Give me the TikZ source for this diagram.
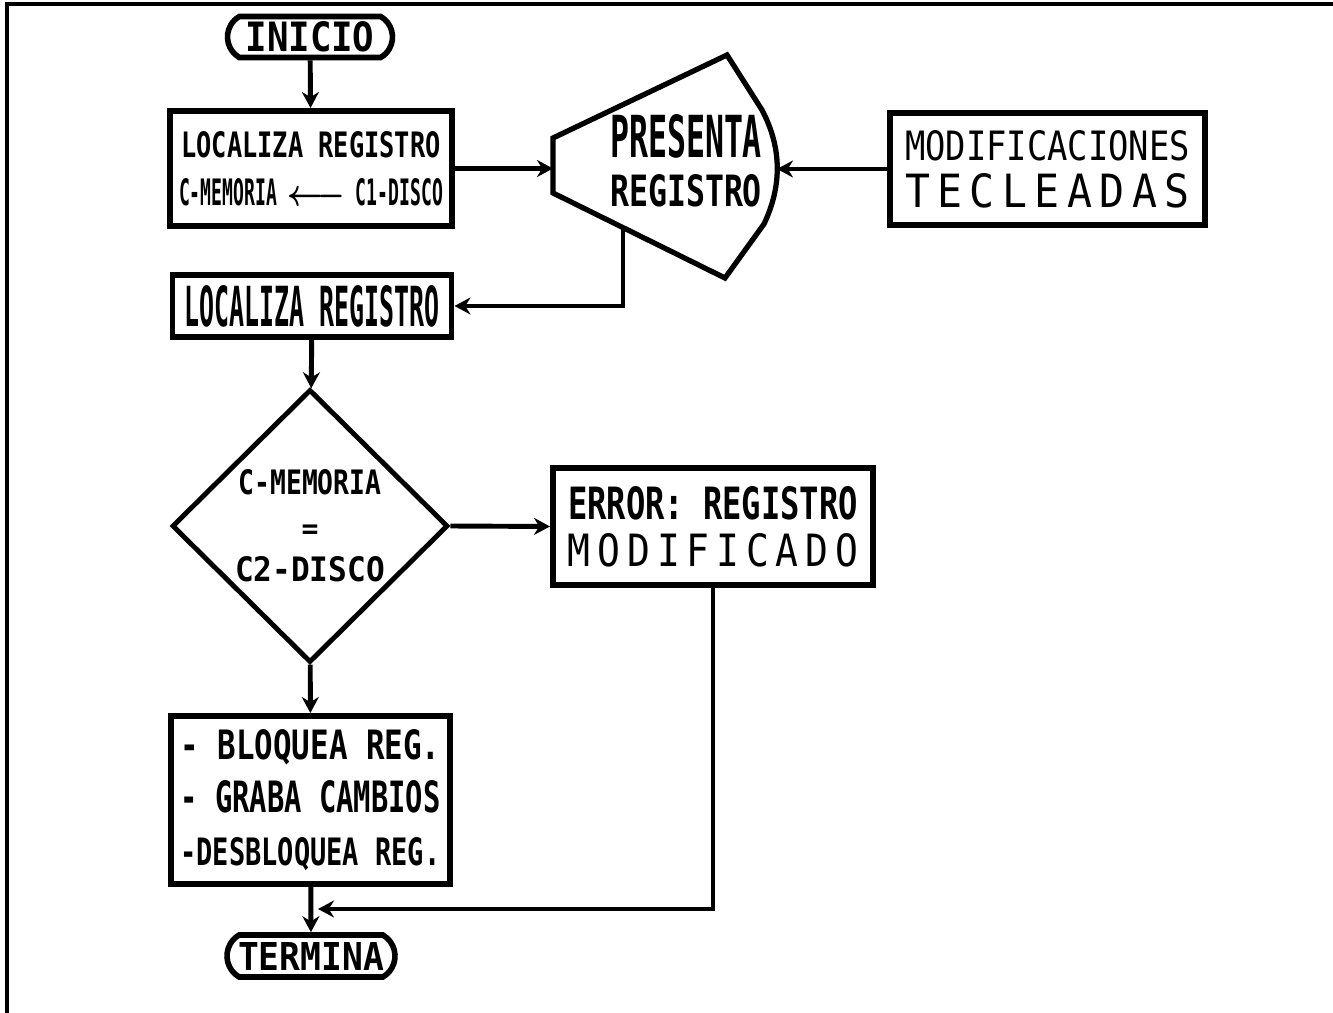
\documentclass[tikz,border=0pt]{standalone}
\usepackage{fontspec}
\usepackage{graphicx}
\setmonofont{DejaVu Sans Mono}
\newfontfamily\spacedfont[LetterSpace=18]{DejaVu Sans Mono}
\usetikzlibrary{arrows.meta,shapes.geometric,shapes.misc}
\newcommand{\fitto}[3]{\resizebox{#1}{#2}{#3}}
\newcommand{\linesk}[1]{\ttfamily\bfseries\fontsize{8}{#1}\selectfont}

\begin{document}
\begin{tikzpicture}[
  x=0.1mm,y=-0.1mm,
  >={Stealth[length=1.6mm,width=1.7mm]},
  every node/.style={font=\linesk{10},inner sep=0pt,align=center},
  box/.style={rectangle,draw,line width=1.7pt},
  term/.style={rounded rectangle,rounded rectangle arc length=120,draw,line width=1.6pt},
  decis/.style={diamond,draw,line width=1.4pt,aspect=1},
  arc/.style={->,line width=1.4pt}
]
\useasboundingbox (0,0) rectangle (1333,1013);
\draw[line width=1.4pt] (1333,4) -- (7,4) -- (7,1013);

\node[term,minimum width=16.5mm,minimum height=4.1mm] (ini) at (310,37) {\fitto{12.9mm}{3.0mm}{INICIO}};
\node[box,minimum width=28.2mm,minimum height=11.5mm,font=\linesk{13.7}] (loc1) at (311,168.5)
  {\fitto{25.9mm}{2.6mm}{LOCALIZA REGISTRO}\\
   \fitto{26.4mm}{2.7mm}{C-MEMORIA \scalebox{1.6}[1]{\boldmath$\longleftarrow$} C1-DISCO}};

% pantalla
\draw[line width=1.5pt] (553,138) -- (727,55) -- (762,110)
  .. controls (782,148) and (782,186) .. (764,224) -- (725,278) -- (553,193) -- cycle;
\coordinate (presW) at (553,168.5);
\coordinate (presE) at (777,169);
\coordinate (presS) at (623,228);
\node[font=\linesk{13.9}] (pres) at (686,161)
  {\fitto{15.2mm}{4.3mm}{PRESENTA}\\\fitto{15.2mm}{3.2mm}{REGISTRO}};

\node[box,minimum width=31.5mm,minimum height=11.2mm,font=\linesk{13.4}] (mods) at (1047.5,169)
  {\fitto{28.5mm}{3.0mm}{\mdseries MODIFICACIONES}\\\fitto{28.5mm}{3.4mm}{\spacedfont\mdseries TECLEADAS}};
\node[box,minimum width=27.9mm,minimum height=6.2mm] (loc2) at (312,306)
  {\fitto{25.5mm}{4.1mm}{LOCALIZA REGISTRO}};
\node[decis,minimum width=27.6mm,minimum height=27.3mm,font=\linesk{12.4}] (cmp) at (310,526)
  {\fitto{14.3mm}{2.5mm}{C-MEMORIA}\\=\\\fitto{15mm}{2.5mm}{C2-DISCO}};
\node[box,minimum width=32mm,minimum height=11.7mm,font=\linesk{13.4}] (err) at (713,526.5)
  {\fitto{29mm}{3.3mm}{ERROR: REGISTRO}\\\fitto{29mm}{3.3mm}{\spacedfont\mdseries MODIFICADO}};
\node[box,minimum width=27.9mm,minimum height=16.8mm,font=\linesk{15},align=left] (grab) at (310.5,800)
  {\fitto{26mm}{3.0mm}{- BLOQUEA REG.}\\
   \fitto{26mm}{3.2mm}{- GRABA CAMBIOS}\\
   \fitto{26mm}{2.8mm}{-DESBLOQUEA REG.}};
\node[term,minimum width=16.8mm,minimum height=4.2mm] (fin) at (311,956) {\fitto{14.6mm}{2.8mm}{TERMINA}};
\coordinate (join) at (318,909);

\draw[arc] (ini) -- (loc1);
\draw[arc] (loc1.east) -- (presW);
\draw[arc] (mods.west) -- (presE);
\draw[arc] (presS) |- (loc2.east);
\draw[arc] (loc2) -- (cmp);
\draw[arc] (cmp.east) -- (err.west);
\draw[arc] (cmp) -- (grab);
\draw[arc] (grab) -- (fin);
\draw[arc] (err.south) |- (join);
\end{tikzpicture}
\end{document}
